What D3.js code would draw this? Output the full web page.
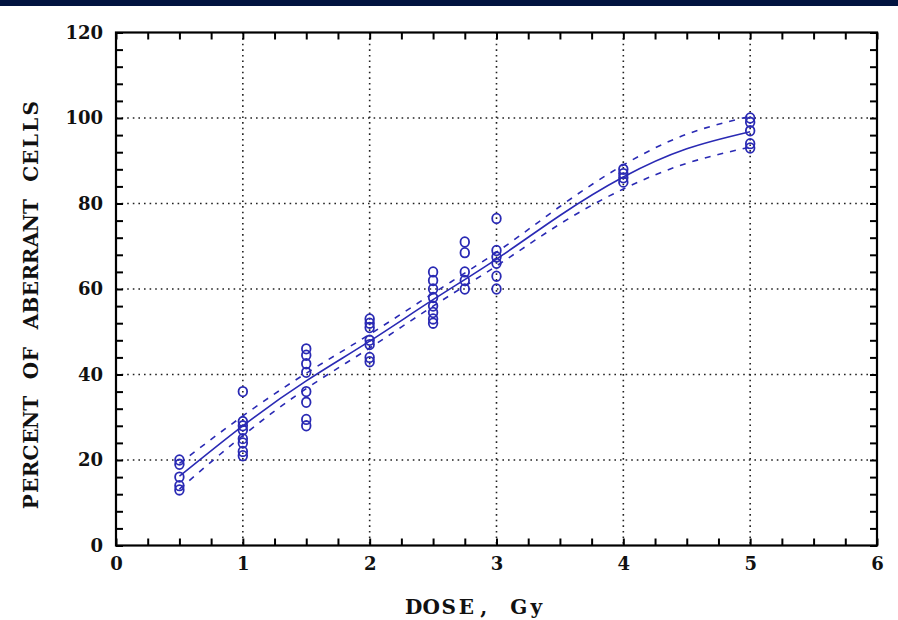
<!DOCTYPE html>
<html>
<head>
<meta charset="utf-8">
<script src="https://cdn.jsdelivr.net/npm/d3@7"></script>
<style>
  body { margin: 0; background: #fff; }
  .lbl { font-family: "DejaVu Serif", "Liberation Serif", serif; font-weight: bold; fill: #111; }
</style>
</head>
<body>
<div id="chart"></div>
<script>
// observed points, grouped by dose (Gy)
const groupDoses = [0.5, 1, 1.5, 2, 2.5, 2.75, 3, 4, 5];
const groupValues = [
  [20, 19, 16, 14, 13],
  [36, 29, 28, 27, 25, 24, 22, 21],
  [46, 44.5, 42.5, 40.5, 36, 33.5, 29.5, 28],
  [53, 52, 51, 48, 47, 44, 43],
  [64, 62, 60, 58, 56, 54.5, 53, 52],
  [71, 68.5, 64, 62, 60],
  [76.5, 69, 67.5, 66, 63, 60],
  [88, 87, 86, 85],
  [100, 99, 97, 94, 93]
];

// fitted curve and confidence band
const fitDose  = [0.5, 1, 1.5, 2, 2.5, 3, 3.5, 4, 4.5, 5];
const fitMean  = [16.2, 28, 38.5, 47.8, 57.5, 67, 77.2, 86.2, 92.8, 96.8];
const fitUpper = [19.2, 30.3, 40.3, 49.4, 59, 68.6, 79.3, 89, 96.2, 100.4];
const fitLower = [13.2, 25.7, 36.7, 46.2, 56, 65.4, 75.2, 83.4, 89.4, 93.2];

const xTicks = [0, 1, 2, 3, 4, 5, 6];
const yTicks = [0, 20, 40, 60, 80, 100, 120];

const W = 898, H = 620;
const margin = { top: 32.5, right: 21, bottom: 74.5, left: 116 };
const width = W - margin.left - margin.right;
const height = H - margin.top - margin.bottom;
const blue = "#2a2ab4";

const svg = d3.select("#chart").append("svg")
  .attr("width", W)
  .attr("height", H);

// dark strip along the top edge
svg.append("rect")
  .attr("x", 0).attr("y", 0)
  .attr("width", W).attr("height", 6)
  .attr("fill", "#021440");

const g = svg.append("g")
  .attr("transform", `translate(${margin.left},${margin.top})`);

const x = d3.scaleLinear().domain([0, 6]).range([0, width]);
const y = d3.scaleLinear().domain([0, 120]).range([height, 0]);

// dotted grid at the inner major ticks
g.append("g").selectAll("line")
  .data(xTicks.slice(1, -1))
  .join("line")
  .attr("x1", d => x(d)).attr("x2", d => x(d))
  .attr("y1", 0).attr("y2", height)
  .attr("stroke", "#222").attr("stroke-width", 1.6)
  .attr("stroke-dasharray", "1.6,4");

g.append("g").selectAll("line")
  .data(yTicks.slice(1, -1))
  .join("line")
  .attr("y1", d => y(d)).attr("y2", d => y(d))
  .attr("x1", 0).attr("x2", width)
  .attr("stroke", "#222").attr("stroke-width", 1.6)
  .attr("stroke-dasharray", "1.6,4");

// inward ticks on all four sides
const xMinor = d3.range(0, 6.001, 0.25);
const yMinor = d3.range(0, 120.001, 4);
const tick = 7;

function styleAxis(sel) {
  sel.select(".domain").remove();
  sel.selectAll(".tick line").attr("stroke", "#000").attr("stroke-width", 2);
  sel.selectAll("text").attr("class", "lbl").style("font-size", "18px");
}

g.append("g")
  .attr("transform", `translate(0,${height})`)
  .call(d3.axisBottom(x).tickValues(xMinor).tickSize(-tick).tickFormat(""))
  .call(styleAxis);
g.append("g")
  .call(d3.axisTop(x).tickValues(xMinor).tickSize(-tick).tickFormat(""))
  .call(styleAxis);
g.append("g")
  .call(d3.axisLeft(y).tickValues(yMinor).tickSize(-tick).tickFormat(""))
  .call(styleAxis);
g.append("g")
  .attr("transform", `translate(${width},0)`)
  .call(d3.axisRight(y).tickValues(yMinor).tickSize(-tick).tickFormat(""))
  .call(styleAxis);

// tick labels
g.append("g")
  .attr("transform", `translate(0,${height})`)
  .call(d3.axisBottom(x).tickValues(xTicks).tickSize(0).tickPadding(12).tickFormat(d3.format("d")))
  .call(styleAxis);
g.append("g")
  .call(d3.axisLeft(y).tickValues(yTicks).tickSize(0).tickPadding(13).tickFormat(d3.format("d")))
  .call(styleAxis);

// frame
g.append("rect")
  .attr("width", width).attr("height", height)
  .attr("fill", "none").attr("stroke", "#000").attr("stroke-width", 2.2);

// fitted curve + confidence band
const line = d3.line()
  .x(d => x(d[0]))
  .y(d => y(d[1]))
  .curve(d3.curveNatural);

g.append("path")
  .datum(d3.zip(fitDose, fitMean))
  .attr("d", line)
  .attr("fill", "none").attr("stroke", blue).attr("stroke-width", 1.6);

[fitUpper, fitLower].forEach(arr => {
  g.append("path")
    .datum(d3.zip(fitDose, arr))
    .attr("d", line)
    .attr("fill", "none").attr("stroke", blue).attr("stroke-width", 1.6)
    .attr("stroke-dasharray", "6,7");
});

// observations
const points = groupDoses.flatMap((d, i) => groupValues[i].map(v => [d, v]));
g.append("g").selectAll("ellipse")
  .data(points)
  .join("ellipse")
  .attr("cx", d => x(d[0]))
  .attr("cy", d => y(d[1]))
  .attr("rx", 4.3).attr("ry", 4.8)
  .attr("fill", "none").attr("stroke", blue).attr("stroke-width", 1.8);

// axis titles, set on a fixed-width grid so they read like a typewriter face
function monoText(parent, str, advance, size) {
  let t = parent.append("text").attr("class", "lbl")
    .attr("text-anchor", "middle")
    .style("font-size", size + "px");
  let start = -(str.length * advance) / 2 + advance / 2;
  t.selectAll("tspan")
    .data(str.split(""))
    .join("tspan")
    .attr("x", (c, i) => start + i * advance)
    .text(c => c);
  return t;
}

monoText(svg.append("g").attr("transform", "translate(475,614)"), "DOSE, Gy", 17.5, 20);
monoText(svg.append("g").attr("transform", "translate(38,305) rotate(-90)"), "PERCENT OF ABERRANT CELLS", 16.4, 20);
</script>
</body>
</html>
